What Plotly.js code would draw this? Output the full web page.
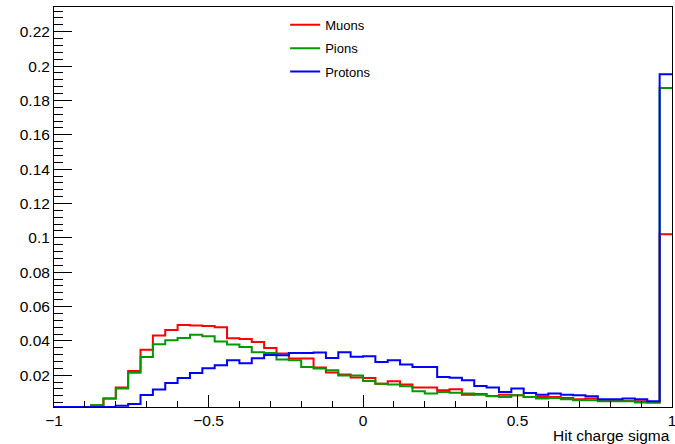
<!DOCTYPE html>
<html>
<head>
<meta charset="utf-8">
<script src="https://cdn.plot.ly/plotly-3.0.1.min.js"></script>
<style>html,body{margin:0;padding:0;background:#fff;}#chart{width:675px;height:444px;}</style>
</head>
<body>
<div id="chart"></div>
<script>
// Bin edges of the histogram (50 bins on [-1, 1])
const binEdges = [-1,-0.96,-0.92,-0.88,-0.84,-0.8,-0.76,-0.72,-0.68,-0.64,-0.6,-0.56,-0.52,-0.48,-0.44,-0.4,-0.36,-0.32,-0.28,-0.24,-0.2,-0.16,-0.12,-0.08,-0.04,0,0.04,0.08,0.12,0.16,0.2,0.24,0.28,0.32,0.36,0.4,0.44,0.48,0.52,0.56,0.6,0.64,0.68,0.72,0.76,0.8,0.84,0.88,0.92,0.96,1];

const seriesNames = ["Muons", "Pions", "Protons"];

const muons = [0.0015,0.0015,0.0015,0.0025,0.0064,0.0128,0.0225,0.0348,0.0431,0.0464,
  0.0493,0.0489,0.0486,0.0480,0.0415,0.0411,0.0393,0.0358,0.0326,0.0297,
  0.0297,0.0245,0.0216,0.0204,0.0187,0.0184,0.0151,0.0165,0.0146,0.0128,
  0.0128,0.0112,0.0118,0.0087,0.0090,0.0079,0.0087,0.0083,0.0073,0.0073,
  0.0073,0.0067,0.0060,0.0064,0.0054,0.0050,0.0050,0.0048,0.0041,0.1021];

const pions = [0.0015,0.0015,0.0015,0.0025,0.0064,0.0122,0.0215,0.0306,0.0380,0.0404,
  0.0417,0.0435,0.0427,0.0396,0.0379,0.0365,0.0334,0.0330,0.0292,0.0287,
  0.0248,0.0239,0.0229,0.0198,0.0198,0.0167,0.0151,0.0146,0.0136,0.0107,
  0.0093,0.0103,0.0098,0.0093,0.0087,0.0077,0.0073,0.0083,0.0073,0.0064,
  0.0067,0.0060,0.0054,0.0054,0.0048,0.0048,0.0048,0.0041,0.0041,0.1873];

const protons = [0.0015,0.0015,0.0015,0.0015,0.0015,0.0023,0.0032,0.0085,0.0117,0.0155,
  0.0184,0.0213,0.0240,0.0258,0.0287,0.0270,0.0299,0.0318,0.0316,0.0330,
  0.0330,0.0332,0.0301,0.0334,0.0308,0.0310,0.0277,0.0287,0.0262,0.0248,
  0.0248,0.0190,0.0185,0.0171,0.0137,0.0128,0.0103,0.0122,0.0097,0.0087,
  0.0093,0.0087,0.0083,0.0077,0.0060,0.0060,0.0064,0.0060,0.0048,0.1953];

const colors = ["#ff0000", "#009a00", "#0000ff"];
const allSeries = [muons, pions, protons];

const FONT = "Liberation Sans, Arial, Helvetica, sans-serif";

const traces = allSeries.map((vals, i) => ({
  type: "scatter",
  mode: "lines",
  name: seriesNames[i],
  legendgroup: "g" + i,
  x: binEdges,
  y: vals.concat([vals[vals.length - 1]]),
  line: { shape: "hv", color: colors[i], width: 2 },
  hoverinfo: "skip"
}));

const layout = {
  width: 675,
  height: 444,
  margin: { l: 54, r: 3, t: 7, b: 37.3 },
  paper_bgcolor: "#ffffff",
  plot_bgcolor: "#ffffff",
  font: { family: FONT, color: "#000000", size: 15.5 },
  showlegend: true,
  legend: {
    x: 0.374, y: 0.993, xanchor: "left", yanchor: "top",
    bgcolor: "rgba(255,255,255,0)",
    borderwidth: 0,
    font: { family: FONT, size: 13, color: "#000" },
    tracegroupgap: 3.5
  },
  xaxis: {
    range: [-1, 1],
    tickmode: "linear", tick0: -1, dtick: 0.5,
    ticks: "inside", ticklen: 12, tickwidth: 1, tickcolor: "#000",
    minor: { ticks: "inside", dtick: 0.1, tick0: -1, ticklen: 6, tickwidth: 1, tickcolor: "#000" },
    showgrid: false, zeroline: false,
    showline: true, linecolor: "#000", linewidth: 1, mirror: true,
    tickfont: { family: FONT, size: 15.5, color: "#000" },
    ticklabeloverflow: "allow",
    ticklabelstandoff: -1
  },
  yaxis: {
    range: [0.0015, 0.2344],
    tickmode: "linear", tick0: 0, dtick: 0.02,
    ticks: "inside", ticklen: 18, tickwidth: 1, tickcolor: "#000",
    minor: { ticks: "inside", dtick: 0.004, tick0: 0, ticklen: 9, tickwidth: 1, tickcolor: "#000" },
    showgrid: false, zeroline: false,
    showline: true, linecolor: "#000", linewidth: 1, mirror: true,
    tickfont: { family: FONT, size: 15.5, color: "#000" }
  },
  annotations: [{
    text: "Hit charge sigma",
    xref: "paper", yref: "paper",
    x: 1, y: -0.071, xanchor: "right", yanchor: "middle",
    showarrow: false,
    font: { family: FONT, size: 15.5, color: "#000" }
  }]
};

Plotly.newPlot("chart", traces, layout, { staticPlot: true, displayModeBar: false });
</script>
</body>
</html>
